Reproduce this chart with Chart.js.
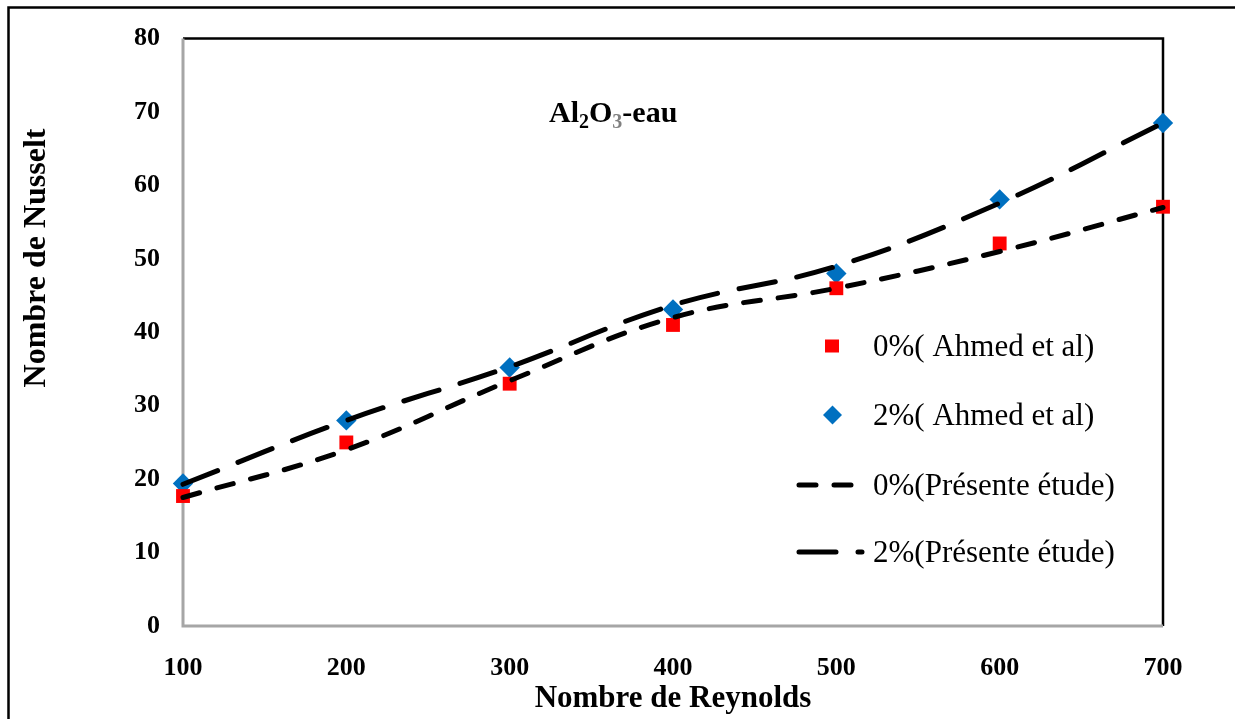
<!DOCTYPE html>
<html>
<head>
<meta charset="utf-8">
<script src="https://cdn.jsdelivr.net/npm/chart.js@4.4.0/dist/chart.umd.min.js"></script>
<style>
  html, body { margin: 0; padding: 0; background: #fff; }
  canvas { display: block; }
</style>
</head>
<body>
<canvas id="nusselt-chart" width="1235" height="719"></canvas>
<script>
// Reynolds numbers on the x axis
const reynolds = [100, 200, 300, 400, 500, 600, 700];
// markers (Ahmed et al)
const ahmed0 = [17.7, 25.0, 33.0, 41.0, 46.0, 52.1, 57.1];
const ahmed2 = [19.4, 28.0, 35.2, 43.1, 48.0, 58.1, 68.5];
// curves (présente étude)
const etude0 = [17.5, 24.0, 33.4, 42.0, 46.0, 51.0, 57.0];
const etude2 = [19.3, 28.0, 35.3, 43.7, 49.0, 57.6, 68.5];
const seriesLabels = ['0%( Ahmed et al)', '2%( Ahmed et al)', '0%(Présente étude)', '2%(Présente étude)'];
const yTicks = [0, 10, 20, 30, 40, 50, 60, 70, 80];

const serif = '"Liberation Serif", "Times New Roman", serif';
const toPoints = vals => vals.map((v, i) => ({ x: reynolds[i], y: v }));

const shortDash = [17, 18];
const longDash = [37, 22];

// frame, titles and the in-plot legend
const decor = {
    id: 'decor',
    beforeDraw(chart) {
        const ctx = chart.ctx;
        ctx.save();
        ctx.fillStyle = '#fff';
        ctx.fillRect(0, 0, chart.width, chart.height);
        // outer border
        ctx.strokeStyle = '#000';
        ctx.lineWidth = 2.5;
        ctx.beginPath();
        ctx.moveTo(8.5, chart.height);
        ctx.lineTo(8.5, 7.5);
        ctx.lineTo(chart.width, 7.5);
        ctx.stroke();
        ctx.restore();
    },
    beforeDatasetsDraw(chart) {
        const { ctx, chartArea: a } = chart;
        ctx.save();
        ctx.lineWidth = 2.5;
        ctx.strokeStyle = '#000';
        ctx.beginPath();
        ctx.moveTo(a.left, a.top);
        ctx.lineTo(a.right, a.top);
        ctx.lineTo(a.right, a.bottom);
        ctx.stroke();
        ctx.strokeStyle = '#a6a6a6';
        ctx.lineWidth = 3;
        ctx.beginPath();
        ctx.moveTo(a.left, a.top);
        ctx.lineTo(a.left, a.bottom);
        ctx.lineTo(a.right, a.bottom);
        ctx.stroke();
        ctx.restore();
    },
    afterDraw(chart) {
        const ctx = chart.ctx;
        ctx.save();

        // y axis title
        ctx.font = 'bold 32px ' + serif;
        ctx.fillStyle = '#000';
        ctx.textAlign = 'center';
        ctx.textBaseline = 'alphabetic';
        ctx.translate(45, 258);
        ctx.rotate(-Math.PI / 2);
        ctx.fillText('Nombre de Nusselt', 0, 0);
        ctx.setTransform(1, 0, 0, 1, 0, 0);

        // Al2O3-eau
        const parts = [
            ['Al', 30, 0, '#000'],
            ['2', 20, 6, '#000'],
            ['O', 30, 0, '#000'],
            ['3', 20, 6, '#808080'],
            ['-eau', 30, 0, '#000']
        ];
        let tx = 549;
        ctx.textAlign = 'left';
        parts.forEach(([t, size, dy, col]) => {
            ctx.font = 'bold ' + size + 'px ' + serif;
            ctx.fillStyle = col;
            ctx.fillText(t, tx, 122 + dy);
            tx += ctx.measureText(t).width;
        });

        // legend
        const rows = [346, 415, 485, 552];
        ctx.font = '31px ' + serif;
        ctx.fillStyle = '#000';
        seriesLabels.forEach((lab, i) => {
            const y = rows[i];
            if (i === 0) {
                ctx.fillStyle = '#ff0000';
                ctx.fillRect(825, y - 6.5, 14, 13);
            } else if (i === 1) {
                ctx.fillStyle = '#0070c0';
                ctx.beginPath();
                ctx.moveTo(832.5, y - 9.5);
                ctx.lineTo(842, y);
                ctx.lineTo(832.5, y + 9.5);
                ctx.lineTo(823, y);
                ctx.closePath();
                ctx.fill();
            } else {
                ctx.strokeStyle = '#000';
                ctx.lineWidth = 5;
                ctx.lineCap = 'round';
                ctx.setLineDash(i === 2 ? shortDash : longDash);
                ctx.beginPath();
                ctx.moveTo(799, y);
                ctx.lineTo(i === 2 ? 858 : 862, y);
                ctx.stroke();
                ctx.setLineDash([]);
            }
            ctx.fillStyle = '#000';
            ctx.fillText(lab, 873, y + 10);
        });
        ctx.restore();
    }
};

const lineSet = (label, vals, dash) => ({
    label: label,
    data: toPoints(vals),
    borderColor: '#000',
    borderWidth: 5,
    borderDash: dash,
    borderCapStyle: 'round',
    pointRadius: 0,
    tension: 0.4,
    fill: false,
    clip: false,
    order: 0
});

const markerSet = (label, vals, style, color, r) => ({
    label: label,
    data: toPoints(vals),
    showLine: false,
    pointStyle: style,
    pointRadius: r,
    pointBackgroundColor: color,
    pointBorderColor: color,
    pointBorderWidth: 0,
    clip: false,
    order: 1
});

const config = {
    type: 'line',
    data: {
        datasets: [
            markerSet(seriesLabels[0], ahmed0, 'rect', '#ff0000', 9.8),
            markerSet(seriesLabels[1], ahmed2, 'rectRot', '#0070c0', 10.2),
            lineSet(seriesLabels[2], etude0, shortDash),
            lineSet(seriesLabels[3], etude2, longDash)
        ]
    },
    options: {
        responsive: false,
        animation: false,
        layout: { padding: { top: 35, right: 72, bottom: 0, left: 0 } },
        plugins: {
            legend: { display: false },
            tooltip: { enabled: false }
        },
        scales: {
            x: {
                type: 'linear',
                min: reynolds[0],
                max: reynolds[reynolds.length - 1],
                afterBuildTicks: s => { s.ticks = reynolds.map(v => ({ value: v })); },
                afterFit: s => { s.height = 93; },
                grid: { display: false, drawTicks: false },
                border: { display: false },
                ticks: {
                    padding: 27,
                    color: '#000',
                    font: { family: serif, size: 26, weight: 'bold' }
                },
                title: {
                    display: true,
                    text: 'Nombre de Reynolds',
                    color: '#000',
                    padding: { top: 0, bottom: 1 },
                    font: { family: serif, size: 31, weight: 'bold' }
                }
            },
            y: {
                min: yTicks[0],
                max: yTicks[yTicks.length - 1],
                afterBuildTicks: s => { s.ticks = yTicks.map(v => ({ value: v })); },
                afterFit: s => { s.width = 183; },
                grid: { display: false, drawTicks: false },
                border: { display: false },
                ticks: {
                    padding: 23,
                    color: '#000',
                    font: { family: serif, size: 26, weight: 'bold' }
                }
            }
        }
    },
    plugins: [decor]
};

new Chart(document.getElementById('nusselt-chart'), config);
</script>
</body>
</html>
